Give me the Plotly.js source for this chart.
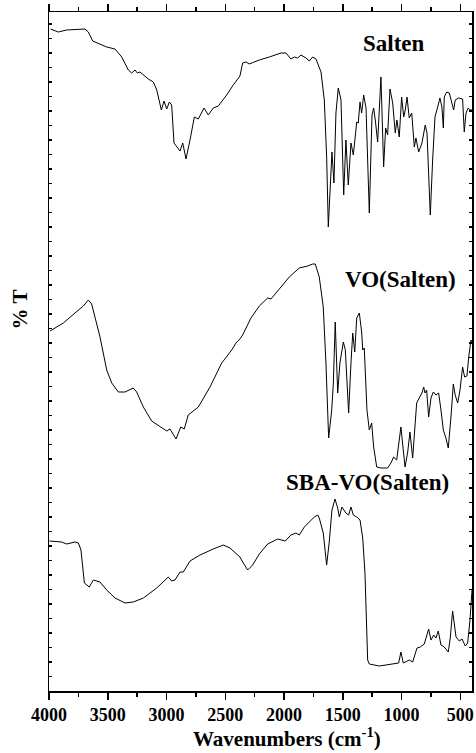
<!DOCTYPE html>
<html>
<head>
<meta charset="utf-8">
<script src="https://cdn.plot.ly/plotly-3.0.1.min.js"></script>
<style>html,body{margin:0;padding:0;background:#fff;}#chart{width:476px;height:753px;}</style>
</head>
<body>
<div id="chart"></div>
<script>
// Wavenumbers (cm-1) and transmittance (arbitrary units, curves offset as in the figure)
const saltenWn = [3986,3921,3850,3694,3665,3628,3509,3438,3381,3325,3296,3268,3248,3226,3155,3112,3083,3061,3044,3021,2998,2976,2956,2936,2908,2885,2862,2834,2800,2763,2729,2681,2644,2602,2559,2488,2432,2409,2375,2352,2323,2296,2210,2125,2026,1983,1941,1912,1884,1855,1813,1785,1756,1728,1685,1657,1637,1623,1606,1592,1575,1558,1538,1515,1492,1473,1453,1430,1410,1381,1368,1353,1339,1322,1302,1274,1251,1237,1223,1203,1175,1152,1135,1118,1098,1075,1053,1039,1019,999,981,968,953,934,913,891,877,854,826,798,783,755,735,715,692,673,656,644,636,616,593,571,556,543,514,480,466,451,432,415,400];
const saltenT = [662,659,661,662,659,650,644,642,634,621,618,621,618,619,612,609,601,591,581,590,582,589,586,548,544,540,548,532,551,574,572,583,576,583,585,596,606,610,615,628,629,627,631,634,638,638,632,634,633,636,633,630,634,632,619,591,534,464,504,539,508,578,603,591,496,551,506,548,536,569,568,589,578,596,583,478,576,583,571,549,614,524,563,556,602,588,558,571,554,594,574,581,594,573,578,544,553,539,548,566,558,476,531,574,584,593,584,563,594,599,598,589,581,591,593,592,559,578,583,581,581];

const voWn = [3991,3878,3779,3708,3665,3637,3566,3509,3466,3410,3353,3283,3254,3197,3126,3055,2998,2970,2942,2919,2879,2849,2815,2729,2630,2530,2445,2409,2375,2352,2281,2210,2139,2111,2040,1955,1870,1798,1756,1734,1700,1666,1643,1620,1594,1580,1564,1543,1524,1495,1478,1464,1450,1430,1415,1398,1381,1359,1339,1330,1317,1294,1274,1254,1237,1211,1175,1118,1090,1067,1041,1005,990,970,947,928,905,885,871,849,826,811,800,786,769,749,729,707,684,664,644,622,602,579,559,543,522,502,480,463,443,428,409,400];
const voT = [360,368,378,385,391,387,354,321,308,299,299,303,299,284,270,264,260,262,257,252,264,262,276,284,304,328,341,348,352,356,373,385,393,392,402,414,423,425,427,427,414,384,328,253,281,308,369,298,328,349,341,311,278,328,358,339,373,378,359,341,343,281,261,268,244,224,223,223,228,234,231,264,244,224,239,259,233,261,288,293,298,304,298,301,274,293,299,296,298,281,261,253,243,274,307,296,288,301,324,314,315,334,351,349];

const sbaWn = [3997,3892,3850,3779,3750,3728,3713,3699,3657,3623,3566,3509,3438,3353,3283,3197,3083,2985,2956,2928,2885,2857,2800,2715,2602,2517,2460,2409,2375,2352,2309,2267,2210,2139,2054,1989,1941,1898,1870,1827,1785,1742,1713,1700,1666,1637,1615,1592,1566,1543,1529,1507,1473,1450,1430,1410,1381,1353,1330,1311,1288,1274,1189,1075,1024,1005,985,934,905,868,840,806,769,749,726,707,687,664,636,602,585,565,536,508,485,457,437,417,403,400];
const sbaT = [150,149,147,149,148,141,124,108,104,111,109,101,93,88,89,93,103,114,110,111,119,119,130,136,142,146,143,138,134,129,121,126,137,147,152,150,156,158,156,164,169,174,176,173,158,126,149,181,192,183,174,184,178,176,184,176,174,171,153,118,31,27,25,27,28,39,28,31,29,43,44,47,62,51,56,53,60,46,44,39,53,80,54,50,52,45,48,71,94,101];

const seriesLabels = ["Salten", "VO(Salten)", "SBA-VO(Salten)"];
const xTitle = "Wavenumbers (cm<sup>-1</sup>)";
const yTitle = "% T";

const lineStyle = {color: "black", width: 1};
const traces = [
  {x: saltenWn, y: saltenT, name: seriesLabels[0], mode: "lines", line: lineStyle, hoverinfo: "skip"},
  {x: voWn, y: voT, name: seriesLabels[1], mode: "lines", line: lineStyle, hoverinfo: "skip"},
  {x: sbaWn, y: sbaT, name: seriesLabels[2], mode: "lines", line: lineStyle, hoverinfo: "skip"}
];

const serif = "Liberation Serif, Times New Roman, serif";
const labelFont = {family: serif, size: 23, color: "black"};

const layout = {
  width: 476, height: 753,
  margin: {l: 49, r: 4, t: 12, b: 62},
  paper_bgcolor: "white", plot_bgcolor: "white",
  showlegend: false,
  font: {family: serif, color: "black"},
  xaxis: {
    range: [4000, 400], tick0: 500, dtick: 500,
    ticks: "outside", ticklen: 7, tickwidth: 1.5, tickcolor: "black",
    showline: true, linewidth: 1.5, linecolor: "black", mirror: "ticks",
    showgrid: false, zeroline: false,
    tickfont: {family: serif, size: 18, weight: "bold", color: "black"},
    minor: {dtick: 250, tick0: 500, ticks: "outside", ticklen: 4, tickwidth: 1.5, tickcolor: "black", showgrid: false}
  },
  yaxis: {
    range: [0, 679], tick0: 14.3, dtick: 14.5,
    ticks: "inside", ticklen: 3, tickwidth: 1.5, tickcolor: "black",
    showticklabels: false,
    showline: true, linewidth: 1.5, linecolor: "black", mirror: "ticks",
    showgrid: false, zeroline: false
  },
  annotations: [
    {text: "<b>" + seriesLabels[0] + "</b>", xref: "paper", yref: "paper", x: 0.816, y: 0.954, xanchor: "center", yanchor: "middle", showarrow: false, font: labelFont},
    {text: "<b>" + seriesLabels[1] + "</b>", xref: "paper", yref: "paper", x: 0.832, y: 0.6063, xanchor: "center", yanchor: "middle", showarrow: false, font: labelFont},
    {text: "<b>" + seriesLabels[2] + "</b>", xref: "paper", yref: "paper", x: 0.754, y: 0.3078, xanchor: "center", yanchor: "middle", showarrow: false, font: labelFont},
    {text: "<b>" + xTitle + "</b>", xref: "paper", yref: "paper", x: 0.5638, y: -0.0898, xanchor: "center", yanchor: "bottom", borderpad: 0, showarrow: false, font: {family: serif, size: 21, color: "black"}},
    {text: "<b>" + yTitle + "</b>", xref: "paper", yref: "paper", x: -0.0674, y: 0.5626, xanchor: "center", yanchor: "middle", textangle: -90, showarrow: false, font: {family: serif, size: 21, color: "black"}}
  ]
};

Plotly.newPlot("chart", traces, layout, {staticPlot: true, displayModeBar: false});
</script>
</body>
</html>
